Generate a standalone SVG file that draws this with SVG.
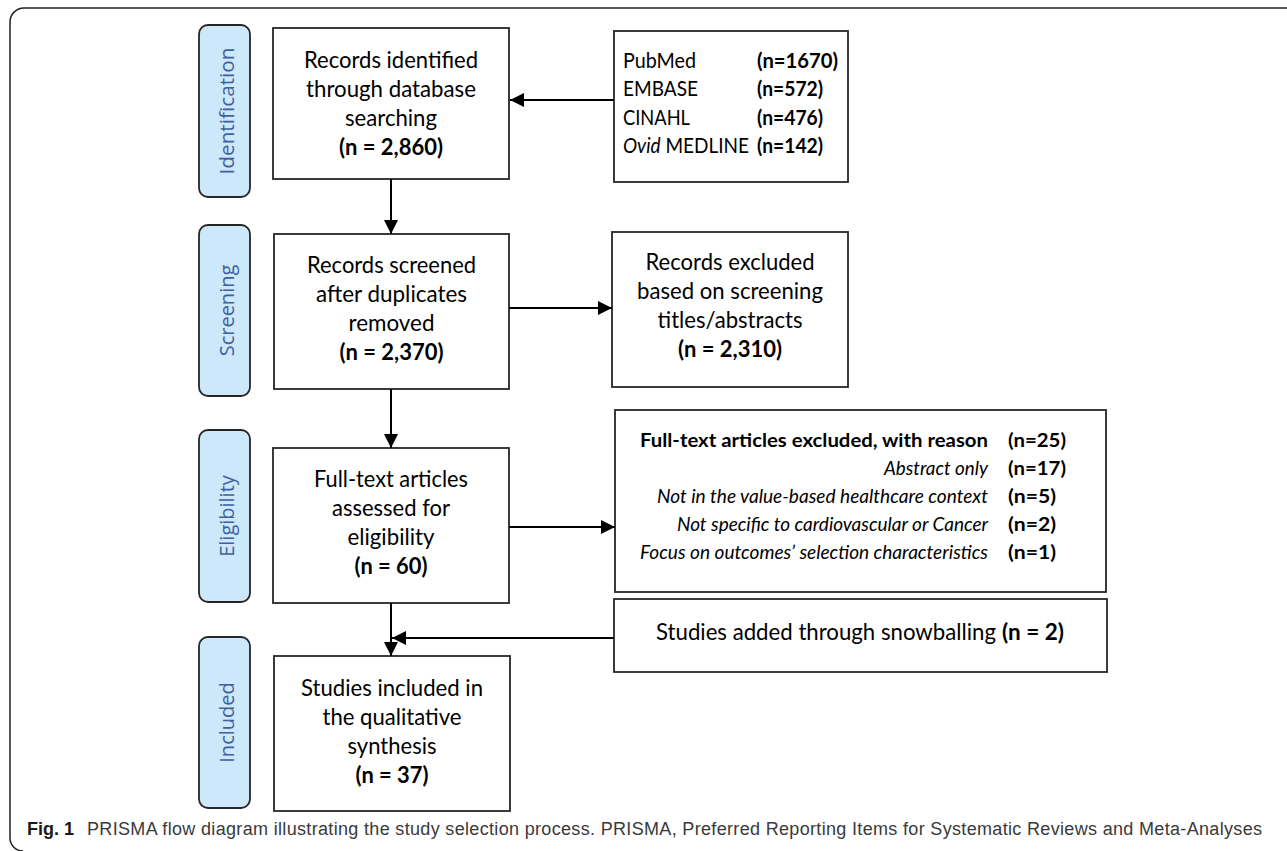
<svg xmlns="http://www.w3.org/2000/svg" width="1287" height="851" viewBox="0 0 1287 851">
<style>
.frame{fill:none;stroke:#222;stroke-width:1.5}
.box{fill:#fff;stroke:#262626;stroke-width:1.8}
.pill{fill:#cce8fa;stroke:#262626;stroke-width:1.8}
.plabel{font-family:"Open Sans","Noto Sans",sans-serif;font-size:20px;fill:#40609f;text-anchor:middle}
.t{font-family:Lato,"Liberation Sans",sans-serif;font-size:23px;fill:#000;text-anchor:middle}
.ts{font-family:Lato,"Liberation Sans",sans-serif;font-size:23px;fill:#000;text-anchor:start}
.s{font-family:Lato,"Liberation Sans",sans-serif;font-size:21px;fill:#000}
.r{font-family:Lato,"Liberation Sans",sans-serif;font-size:19.5px;fill:#000}
.b{font-weight:bold}
.i{font-style:italic}
.conn{fill:none;stroke:#000;stroke-width:2}
.cap{font-family:"Liberation Sans",Arial,sans-serif;font-size:18px;fill:#3a3a3a}
</style>
<defs>
<marker id="arr" markerUnits="userSpaceOnUse" markerWidth="14" markerHeight="14" viewBox="0 0 12 12" refX="12" refY="6" orient="auto">
<path d="M0,0 L12,6 L0,12 Z" fill="#000"/>
</marker>
</defs>
<path class="frame" d="M1287,8 H24 A14,14 0 0 0 10,22 V838 A13,13 0 0 0 23,851"/>

<g id="stage-identification">
<rect class="pill" x="199" y="25" width="51" height="172" rx="9"/>
<text class="plabel" transform="translate(234,111) rotate(-90)" x="0" y="0" textLength="127" lengthAdjust="spacingAndGlyphs">Identification</text>
</g>
<g id="stage-screening">
<rect class="pill" x="199" y="225" width="51" height="171" rx="9"/>
<text class="plabel" transform="translate(234,310.5) rotate(-90)" x="0" y="0">Screening</text>
</g>
<g id="stage-eligibility">
<rect class="pill" x="199" y="430" width="51" height="172" rx="9"/>
<text class="plabel" transform="translate(234,516) rotate(-90)" x="0" y="0">Eligibility</text>
</g>
<g id="stage-included">
<rect class="pill" x="199" y="637" width="51" height="171" rx="9"/>
<text class="plabel" transform="translate(234,722.5) rotate(-90)" x="0" y="0">Included</text>
</g>

<g id="records-identified">
<rect class="box" x="273" y="28" width="236" height="151"/>
<text class="t" x="391" y="68" textLength="174" lengthAdjust="spacingAndGlyphs">Records identified</text>
<text class="t" x="391" y="97" textLength="170" lengthAdjust="spacingAndGlyphs">through database</text>
<text class="t" x="391" y="126" textLength="92" lengthAdjust="spacingAndGlyphs">searching</text>
<text class="t b" x="391" y="155" textLength="104" lengthAdjust="spacingAndGlyphs">(n = 2,860)</text>
</g>

<g id="databases">
<rect class="box" x="614" y="31" width="234" height="151"/>
<text class="s" x="623" y="68" textLength="73" lengthAdjust="spacingAndGlyphs">PubMed</text>
<text class="s b" x="757" y="68" textLength="81" lengthAdjust="spacingAndGlyphs">(n=1670)</text>
<text class="s" x="623" y="96" textLength="75" lengthAdjust="spacingAndGlyphs">EMBASE</text>
<text class="s b" x="757" y="96" textLength="66" lengthAdjust="spacingAndGlyphs">(n=572)</text>
<text class="s" x="623" y="125" textLength="67" lengthAdjust="spacingAndGlyphs">CINAHL</text>
<text class="s b" x="757" y="125" textLength="66" lengthAdjust="spacingAndGlyphs">(n=476)</text>
<text class="s" x="623" y="153" textLength="126" lengthAdjust="spacingAndGlyphs"><tspan class="i">Ovid</tspan> MEDLINE</text>
<text class="s b" x="757" y="153" textLength="66" lengthAdjust="spacingAndGlyphs">(n=142)</text>
</g>

<g id="records-screened">
<rect class="box" x="274" y="234" width="235" height="155"/>
<text class="t" x="391.5" y="273" textLength="169" lengthAdjust="spacingAndGlyphs">Records screened</text>
<text class="t" x="391.5" y="302" textLength="151" lengthAdjust="spacingAndGlyphs">after duplicates</text>
<text class="t" x="391.5" y="331" textLength="86" lengthAdjust="spacingAndGlyphs">removed</text>
<text class="t b" x="391.5" y="360" textLength="104" lengthAdjust="spacingAndGlyphs">(n = 2,370)</text>
</g>

<g id="records-excluded">
<rect class="box" x="612" y="232" width="236" height="155"/>
<text class="t" x="730" y="270" textLength="169" lengthAdjust="spacingAndGlyphs">Records excluded</text>
<text class="t" x="730" y="299" textLength="186" lengthAdjust="spacingAndGlyphs">based on screening</text>
<text class="t" x="730" y="328" textLength="145" lengthAdjust="spacingAndGlyphs">titles/abstracts</text>
<text class="t b" x="730" y="357" textLength="104" lengthAdjust="spacingAndGlyphs">(n = 2,310)</text>
</g>

<g id="full-text-assessed">
<rect class="box" x="273" y="448" width="236" height="155"/>
<text class="t" x="391" y="487" textLength="154" lengthAdjust="spacingAndGlyphs">Full-text articles</text>
<text class="t" x="391" y="516" textLength="118" lengthAdjust="spacingAndGlyphs">assessed for</text>
<text class="t" x="391" y="545" textLength="87" lengthAdjust="spacingAndGlyphs">eligibility</text>
<text class="t b" x="391" y="574" textLength="73" lengthAdjust="spacingAndGlyphs">(n = 60)</text>
</g>

<g id="full-text-excluded">
<rect class="box" x="615" y="410" width="491" height="182"/>
<text class="r b" x="988" y="447" text-anchor="end" textLength="348" lengthAdjust="spacingAndGlyphs">Full-text articles excluded, with reason</text>
<text class="r i" x="988" y="475" text-anchor="end" textLength="104" lengthAdjust="spacingAndGlyphs">Abstract only</text>
<text class="r i" x="988" y="503" text-anchor="end" textLength="331" lengthAdjust="spacingAndGlyphs">Not in the value-based healthcare context</text>
<text class="r i" x="988" y="531" text-anchor="end" textLength="311" lengthAdjust="spacingAndGlyphs">Not specific to cardiovascular or Cancer</text>
<text class="r i" x="988" y="559" text-anchor="end" textLength="348" lengthAdjust="spacingAndGlyphs">Focus on outcomes’ selection characteristics</text>
<text class="r b" x="1008" y="447" textLength="58" lengthAdjust="spacingAndGlyphs">(n=25)</text>
<text class="r b" x="1008" y="475" textLength="58" lengthAdjust="spacingAndGlyphs">(n=17)</text>
<text class="r b" x="1008" y="503" textLength="48" lengthAdjust="spacingAndGlyphs">(n=5)</text>
<text class="r b" x="1008" y="531" textLength="48" lengthAdjust="spacingAndGlyphs">(n=2)</text>
<text class="r b" x="1008" y="559" textLength="48" lengthAdjust="spacingAndGlyphs">(n=1)</text>
</g>

<g id="snowballing">
<rect class="box" x="614" y="599" width="493" height="73"/>
<text class="ts" x="656" y="640" textLength="340" lengthAdjust="spacingAndGlyphs">Studies added through snowballing</text>
<text class="ts b" x="1002" y="640" textLength="62" lengthAdjust="spacingAndGlyphs">(n = 2)</text>
</g>

<g id="studies-included">
<rect class="box" x="274" y="656" width="236" height="155"/>
<text class="t" x="392" y="696" textLength="182" lengthAdjust="spacingAndGlyphs">Studies included in</text>
<text class="t" x="392" y="725" textLength="139" lengthAdjust="spacingAndGlyphs">the qualitative</text>
<text class="t" x="392" y="754" textLength="89" lengthAdjust="spacingAndGlyphs">synthesis</text>
<text class="t b" x="392" y="783" textLength="73" lengthAdjust="spacingAndGlyphs">(n = 37)</text>
</g>

<g id="connectors">
<path class="conn" d="M614,100 H510" marker-end="url(#arr)"/>
<path class="conn" d="M391,179 V234" marker-end="url(#arr)"/>
<path class="conn" d="M509,308 H612" marker-end="url(#arr)"/>
<path class="conn" d="M391,389 V448" marker-end="url(#arr)"/>
<path class="conn" d="M509,527 H615" marker-end="url(#arr)"/>
<path class="conn" d="M391,603 V656" marker-end="url(#arr)"/>
<path class="conn" d="M614,638 H392" marker-end="url(#arr)"/>
</g>

<g id="caption">
<text class="cap" x="27" y="835"><tspan font-weight="bold" fill="#1a1a1a">Fig. 1</tspan></text>
<text class="cap" x="87" y="835" textLength="1175" lengthAdjust="spacing">PRISMA flow diagram illustrating the study selection process. PRISMA, Preferred Reporting Items for Systematic Reviews and Meta-Analyses</text>
</g>
</svg>
